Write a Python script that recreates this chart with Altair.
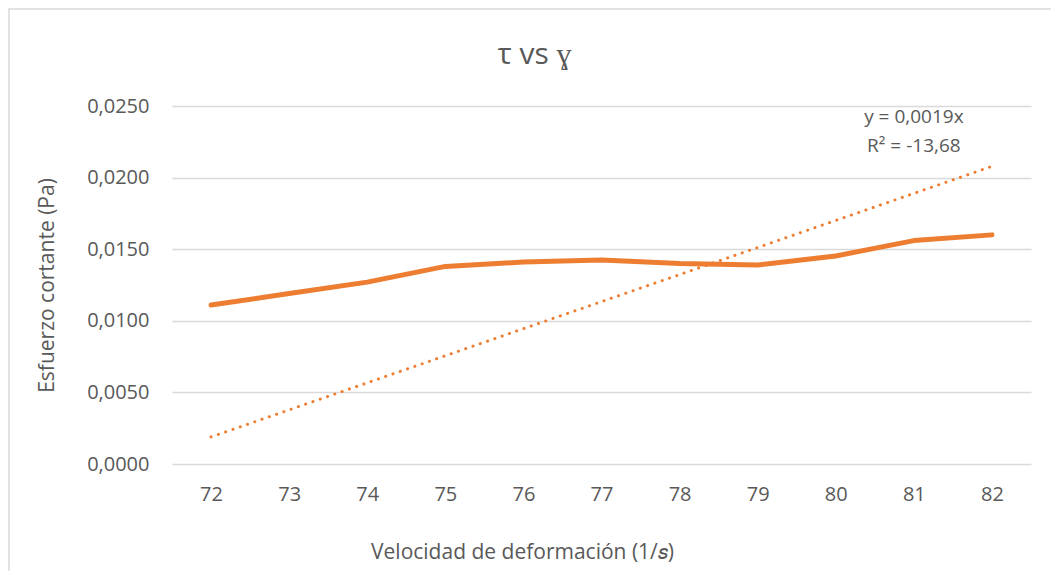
import altair as alt
import pandas as pd
import numpy as np

# ---- data ----
rates = ["72", "73", "74", "75", "76", "77", "78", "79", "80", "81", "82"]
stress = [0.0111, 0.0119, 0.0127, 0.0138, 0.0141, 0.01425, 0.0140, 0.0139, 0.01453, 0.0156, 0.0160]
y_ticks = [0.0, 0.005, 0.010, 0.015, 0.020, 0.025]
eq_text = ["y = 0,0019x", "R² = -13,68"]
eq_x = ["81", "81"]
eq_y = [0.02424, 0.02221]

# linear trendline through the origin (least squares on category index)
idx = np.arange(1, len(stress) + 1)
slope = float(np.sum(idx * np.array(stress)) / np.sum(idx ** 2))
trend = (slope * idx).tolist()

df = pd.DataFrame({"rate": rates, "stress": stress, "trend": trend})
eq_df = pd.DataFrame({"rate": eq_x, "val": eq_y, "txt": eq_text})
frame_df = pd.DataFrame({"a": [0]})

FONT = "Open Sans"
GREY = "#595959"
ORANGE = "#ED7D31"

x_scale = alt.Scale(type="point", domain=rates, padding=0.5)
y_scale = alt.Scale(domain=[0, 0.025], nice=False)

x_enc = alt.X(
    "rate:O",
    scale=x_scale,
    sort=rates,
    axis=alt.Axis(
        title="Velocidad de deformación (1/𝑠)",
        labelAngle=0,
        domain=False,
        ticks=False,
        grid=False,
        labelPadding=20,
        labelFontSize=20,
        labelColor=GREY,
        labelFont=FONT,
        titleFont=FONT,
        titleFontSize=21,
        titleFontWeight="normal",
        titleColor=GREY,
        titleX=350,
        titleY=88,
        titleAlign="center",
        titleBaseline="middle",
    ),
)

y_axis = alt.Axis(
    title="Esfuerzo cortante (Pa)",
    values=y_ticks,
    labelExpr="replace(format(datum.value, '.4f'), '.', ',')",
    domain=False,
    ticks=False,
    grid=True,
    gridColor="#D9D9D9",
    gridWidth=1.3,
    labelPadding=23,
    labelFontSize=20,
    labelColor=GREY,
    labelFont=FONT,
    titleFont=FONT,
    titleFontSize=21,
    titleFontWeight="normal",
    titleColor=GREY,
    titleX=-125,
    titleY=179,
    titleAngle=-90,
    titleAlign="center",
    titleBaseline="middle",
)

border = alt.Chart(frame_df).mark_rect(
    fillOpacity=0, stroke="#D9D9D9", strokeWidth=1.5
).encode(
    x=alt.value(-163), x2=alt.value(885), y=alt.value(-97), y2=alt.value(471)
)

line = alt.Chart(df).mark_line(
    color=ORANGE, strokeWidth=5, strokeCap="round", strokeJoin="round"
).encode(
    x=x_enc,
    y=alt.Y("stress:Q", scale=y_scale, axis=y_axis),
)

trendline = alt.Chart(df).mark_line(
    color=ORANGE, strokeWidth=3, strokeCap="round", strokeDash=[0.1, 7.6]
).encode(
    x=alt.X("rate:O", scale=x_scale, sort=rates),
    y=alt.Y("trend:Q", scale=y_scale),
)

eq = alt.Chart(eq_df).mark_text(
    font=FONT, fontSize=19, color=GREY, align="center", baseline="middle"
).encode(
    x=alt.X("rate:O", scale=x_scale, sort=rates),
    y=alt.Y("val:Q", scale=y_scale),
    text="txt:N",
)

chart = alt.layer(border, line, trendline, eq).properties(
    width=859,
    height=358,
    autosize=alt.AutoSizeParams(type="none"),
    padding={"left": 164, "top": 98, "right": 20, "bottom": 107},
    title=alt.TitleParams(
        text="τ vs ɣ",
        font=FONT,
        fontSize=30,
        fontWeight="normal",
        color=GREY,
        anchor="middle",
        baseline="middle",
        offset=0,
        dx=-67,
        dy=77,
    ),
).configure_view(stroke=None)

chart.save("out.html", embed_options={"renderer": "svg", "actions": False})
